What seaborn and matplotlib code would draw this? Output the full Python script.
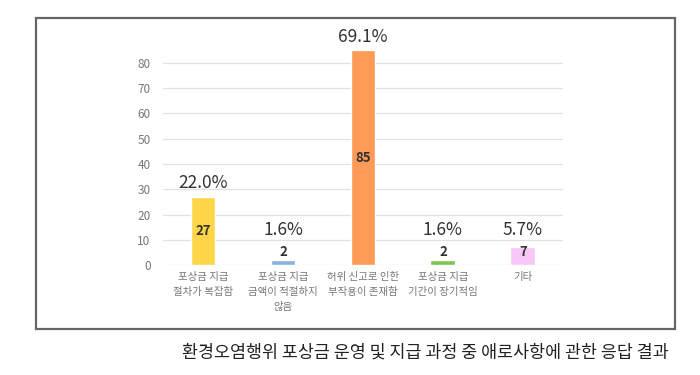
import matplotlib
matplotlib.use("Agg")
import matplotlib.pyplot as plt
from matplotlib.patches import Rectangle
import seaborn as sns
import pandas as pd

# 응답 데이터
categories = ["포상금 지급\n절차가 복잡함", "포상금 지급\n금액이 적절하지\n않음",
              "허위 신고로 인한\n부작용이 존재함", "포상금 지급\n기간이 장기적임", "기타"]
counts = [27, 2, 85, 2, 7]
percents = ["22.0%", "1.6%", "69.1%", "1.6%", "5.7%"]
bar_colors = ["#FDD548", "#8AB0E0", "#FF9A57", "#7CC54E", "#F8C6F8"]
y_ticks = [0, 10, 20, 30, 40, 50, 60, 70, 80]
caption = "환경오염행위 포상금 운영 및 지급 과정 중 애로사항에 관한 응답 결과"

sns.set_style("white")
plt.rcParams['font.family'] = ['Noto Sans CJK KR', 'DejaVu Sans']

df = pd.DataFrame({"category": categories, "count": counts})

fig = plt.figure(figsize=(7, 3.75), dpi=100)
ax = fig.add_axes([0.233, 0.2933, 0.571, 0.5926])

sns.barplot(data=df, x="category", y="count", hue="category", order=categories,
            palette=bar_colors, saturation=1, width=0.31, legend=False, ax=ax, zorder=3)

ax.set_ylim(0, 88)
ax.set_xlim(-0.5, len(categories) - 0.5)
ax.set_yticks(y_ticks)
ax.yaxis.grid(True, color="#e2e2e2", linewidth=0.9, zorder=0)
ax.set_axisbelow(True)
sns.despine(ax=ax, left=True, bottom=True, top=True, right=True)
ax.set_xlabel("")
ax.set_ylabel("")
ax.tick_params(axis="y", length=0, labelsize=8.5, labelcolor="#777777", pad=9)
ax.tick_params(axis="x", length=0, labelsize=7.5, labelcolor="#777777", pad=5)
for lab in ax.get_xticklabels():
    lab.set_linespacing(1.6)
    lab.set_verticalalignment("top")

for i, (v, p) in enumerate(zip(counts, percents)):
    ax.text(i, max(v / 2, 5.3), str(v), ha="center", va="center",
            fontsize=9.5, color="#333333", fontweight="bold", zorder=4)
    ax.text(i, max(v + 5.4, 13.9), p, ha="center", va="center",
            fontsize=12.5, color="#333333", zorder=4)

# 바깥 테두리
fig.patches.append(Rectangle((0.0514, 0.1227), 0.913, 0.829, transform=fig.transFigure,
                             fill=False, edgecolor="#666666", linewidth=1.6))

fig.text(0.607, 0.0587, caption, ha="center", va="center", fontsize=12.5, color="#222222")

fig.savefig("out.png", dpi=100, facecolor="white")
